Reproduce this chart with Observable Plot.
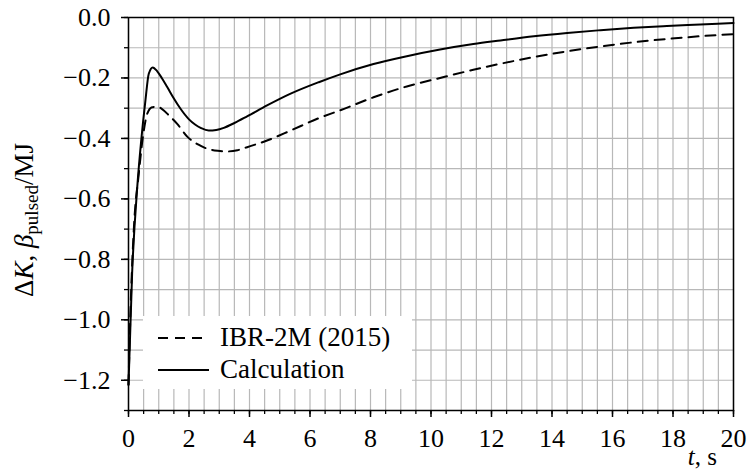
<!DOCTYPE html>
<html><head><meta charset="utf-8">
<script src="https://cdn.jsdelivr.net/npm/d3@7"></script>
<script src="https://cdn.jsdelivr.net/npm/@observablehq/plot@0.6"></script>
<style>html,body{margin:0;padding:0;background:#fff;}</style>
</head><body><div id="chart"></div>
<script>
// Calculation (solid)
const calcT = [0, 0.12, 0.29, 0.42, 0.56, 0.67, 0.80, 0.95, 1.10, 1.28, 1.50, 1.72, 2.00, 2.20, 2.40, 2.65, 2.90, 3.15, 3.50, 3.92, 4.58, 5.36, 6.29, 7.00, 8.10, 9.20, 10.3, 11.4, 12.3, 13.4, 14.5, 15.6, 16.7, 17.8, 18.9, 20];
const calcV = [-1.215, -0.846, -0.56, -0.407, -0.274, -0.186, -0.165, -0.178, -0.200, -0.230, -0.268, -0.302, -0.337, -0.354, -0.366, -0.374, -0.372, -0.365, -0.349, -0.327, -0.291, -0.252, -0.214, -0.188, -0.154, -0.128, -0.106, -0.088, -0.076, -0.062, -0.051, -0.042, -0.034, -0.028, -0.023, -0.018];
// IBR-2M (2015) (dashed)
const ibrT = [0, 0.07, 0.18, 0.34, 0.49, 0.62, 0.78, 0.95, 1.10, 1.35, 1.61, 1.95, 2.30, 2.60, 2.95, 3.26, 3.60, 3.92, 4.58, 5.36, 6.24, 7.00, 8.10, 9.20, 10.3, 11.4, 12.3, 13.4, 14.5, 15.6, 16.7, 17.8, 18.9, 20];
const ibrV = [-1.215, -0.958, -0.693, -0.517, -0.385, -0.318, -0.297, -0.295, -0.302, -0.325, -0.352, -0.395, -0.420, -0.434, -0.441, -0.443, -0.439, -0.429, -0.407, -0.374, -0.335, -0.307, -0.264, -0.228, -0.200, -0.173, -0.153, -0.131, -0.112, -0.096, -0.082, -0.071, -0.062, -0.055];

const xMajorTicks = [0, 2, 4, 6, 8, 10, 12, 14, 16, 18, 20];
const xMinorTicks = d3.range(0, 41).map(d => d / 2);
const yMajorTicks = [-1.2, -1.0, -0.8, -0.6, -0.4, -0.2, 0.0];
const yMinorTicks = d3.range(-13, 1).map(d => d / 10);
const seriesNames = ["IBR-2M (2015)", "Calculation"];

const calc = calcT.map((t, i) => ({t, v: calcV[i]}));
const ibr = ibrT.map((t, i) => ({t, v: ibrV[i]}));

const FONT = "'Liberation Serif', 'DejaVu Serif', serif";
const fmtY = d => Math.abs(d) < 1e-9 ? "0.0" : d3.format(".1f")(d);

const plot = Plot.plot({
  width: 747, height: 471,
  marginLeft: 128, marginRight: 14, marginTop: 17, marginBottom: 61,
  style: {fontFamily: FONT, fontSize: "26px", background: "#fff", color: "#000"},
  x: {domain: [0, 20]},
  y: {domain: [-1.3, 0]},
  marks: [
    Plot.gridX(xMinorTicks, {stroke: "#b8b8b8", strokeOpacity: 1, strokeWidth: 1.2}),
    Plot.gridY(yMinorTicks, {stroke: "#b8b8b8", strokeOpacity: 1, strokeWidth: 1.2}),
    Plot.axisX(xMinorTicks, {tickSize: 4, tickFormat: () => "", strokeWidth: 1.3, label: null}),
    Plot.axisX(xMajorTicks, {tickSize: 7, tickPadding: 11, tickFormat: d => String(d), strokeWidth: 1.5, label: null, fontSize: 26}),
    Plot.axisY(yMinorTicks, {tickSize: 4, tickFormat: () => "", strokeWidth: 1.3, label: null}),
    Plot.axisY(yMajorTicks, {tickSize: 7, tickPadding: 11, tickFormat: fmtY, strokeWidth: 1.5, label: null, fontSize: 26}),
    Plot.line(ibr, {x: "t", y: "v", stroke: "#000", strokeWidth: 2, strokeDasharray: "10,7", curve: "monotone-x"}),
    Plot.line(calc, {x: "t", y: "v", stroke: "#000", strokeWidth: 2, curve: "monotone-x"}),
    Plot.frame({stroke: "#000", strokeWidth: 1.5})
  ]
});

const svg = d3.select(plot);
// y-axis label
const yl = svg.append("text")
  .attr("transform", "translate(33,220) rotate(-90)")
  .attr("text-anchor", "middle")
  .attr("font-family", FONT).attr("font-size", 27).attr("fill", "#000");
yl.append("tspan").text("Δ");
yl.append("tspan").attr("font-style", "italic").text("K");
yl.append("tspan").text(", ");
yl.append("tspan").attr("font-style", "italic").text("β");
yl.append("tspan").attr("font-size", 19).attr("dy", 5).text("pulsed");
yl.append("tspan").attr("dy", -5).text("/MJ");

// x-axis label
const xl = svg.append("text")
  .attr("x", 717).attr("y", 465).attr("text-anchor", "end")
  .attr("font-family", FONT).attr("font-size", 25).attr("fill", "#000");
xl.append("tspan").attr("font-style", "italic").text("t");
xl.append("tspan").text(", s");

// legend
const lg = svg.append("g");
lg.append("rect").attr("x", 143).attr("y", 316).attr("width", 269).attr("height", 73).attr("fill", "#fff");
const styles = ["10,7", null];
const rowsY = [338, 370];
seriesNames.forEach((name, i) => {
  const ln = lg.append("line").attr("x1", 158).attr("x2", 209).attr("y1", rowsY[i]).attr("y2", rowsY[i])
    .attr("stroke", "#000").attr("stroke-width", 2);
  if (styles[i]) ln.attr("stroke-dasharray", styles[i]);
  lg.append("text").attr("x", 220).attr("y", rowsY[i] + 8).attr("text-anchor", "start")
    .attr("font-family", FONT).attr("font-size", 27)
    .attr("fill", "#000").text(name);
});

document.getElementById("chart").appendChild(plot);
</script>
</body></html>
